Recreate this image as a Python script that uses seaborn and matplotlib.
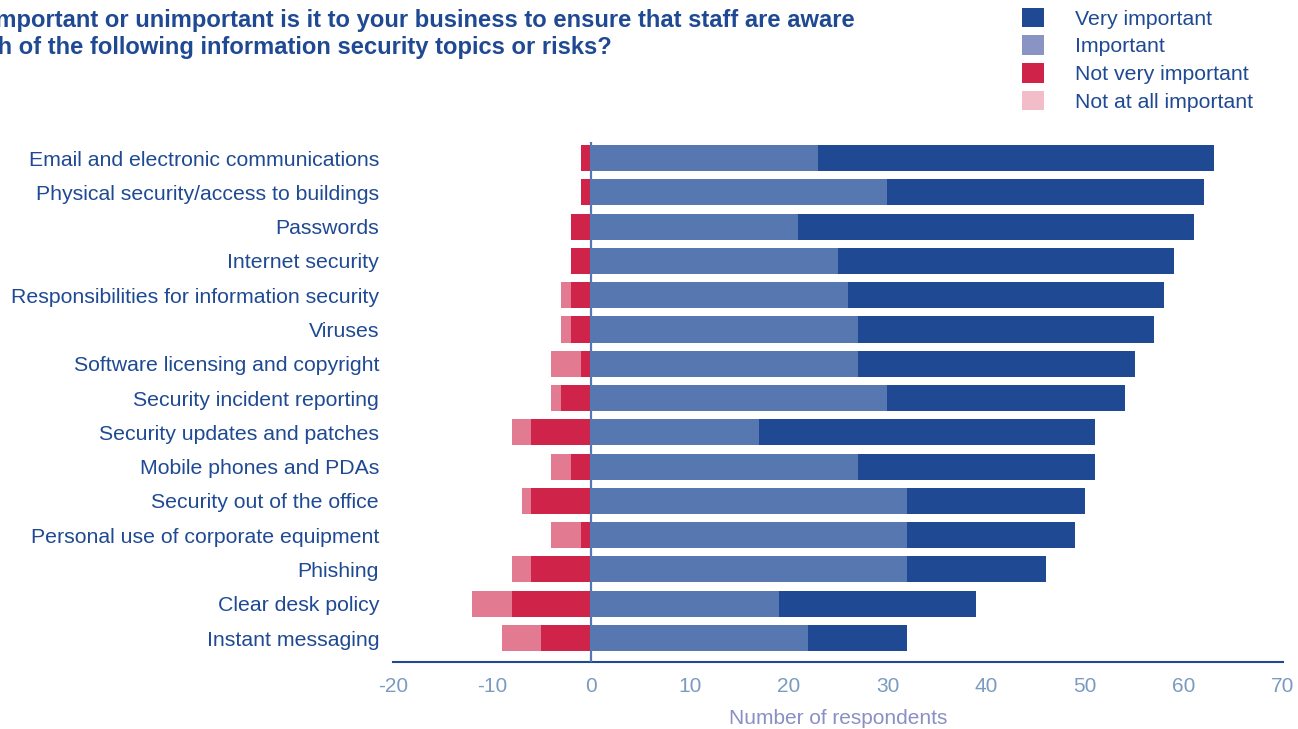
import numpy as np
import pandas as pd
import seaborn as sns
import matplotlib.pyplot as plt
from matplotlib.patches import Patch

topics = ["Email and electronic communications", "Physical security/access to buildings",
          "Passwords", "Internet security", "Responsibilities for information security",
          "Viruses", "Software licensing and copyright", "Security incident reporting",
          "Security updates and patches", "Mobile phones and PDAs", "Security out of the office",
          "Personal use of corporate equipment", "Phishing", "Clear desk policy",
          "Instant messaging"]
very_important = [40, 32, 40, 34, 32, 30, 28, 24, 34, 24, 18, 17, 14, 20, 10]
important = [23, 30, 21, 25, 26, 27, 27, 30, 17, 27, 32, 32, 32, 19, 22]
not_very = [1, 1, 2, 2, 2, 2, 1, 3, 6, 2, 6, 1, 6, 8, 5]
not_at_all = [0, 0, 0, 0, 1, 1, 3, 1, 2, 2, 1, 3, 2, 4, 4]
legend_labels = ["Very important", "Important", "Not very important", "Not at all important"]

DARK = "#1f4a93"
C_VERY = "#1f4a93"
C_IMP = "#5677b0"
C_NV = "#cf2349"
C_NA = "#e27a92"

df = pd.DataFrame({"Topic": topics, "very": very_important, "imp": important,
                   "nv": not_very, "na": not_at_all})
df["pos_total"] = df["imp"] + df["very"]
df["neg_total"] = -(df["nv"] + df["na"])
df["neg_nv"] = -df["nv"]

sns.set_style("white")
plt.rcParams["font.family"] = ["Liberation Sans", "DejaVu Sans"]
plt.rcParams["axes.unicode_minus"] = False

fig = plt.figure(figsize=(12.98, 7.29), dpi=100)
ax = fig.add_axes([393 / 1298, 1 - 662 / 729, 890 / 1298, (662 - 142) / 729])

# stacked by overdrawing: totals first, then inner segments
w = 0.76
bar_kw = dict(orient="h", width=w, saturation=1, linewidth=0, edgecolor="none", ax=ax)
sns.barplot(data=df, x="pos_total", y="Topic", color=C_VERY, **bar_kw)
sns.barplot(data=df, x="imp", y="Topic", color=C_IMP, **bar_kw)
sns.barplot(data=df, x="neg_total", y="Topic", color=C_NA, **bar_kw)
sns.barplot(data=df, x="neg_nv", y="Topic", color=C_NV, **bar_kw)

ax.axvline(0, color=C_IMP, lw=1.6, zorder=5)
ax.set_xlim(-20, 70)
ax.set_ylim(14.7, -0.47)
ax.set_xticks(range(-20, 71, 10))

for s in ["top", "right", "left"]:
    ax.spines[s].set_visible(False)
ax.spines["bottom"].set_color(DARK)
ax.spines["bottom"].set_linewidth(1.5)

ax.tick_params(axis="x", length=0, pad=11, labelsize=15, labelcolor="#7a9bc0")
ax.tick_params(axis="y", length=0, pad=10, labelsize=15.3, labelcolor=DARK)
ax.set_ylabel("")
ax.set_xlabel("Number of respondents", fontsize=15, color="#8a8fc4", labelpad=9)

# title, left part clipped by the figure edge (as in the source image)
fig.text(855 / 1298, 1 - 27 / 729, "How important or unimportant is it to your business to ensure that staff are aware",
         ha="right", va="baseline", fontsize=17.1, fontweight="bold", color=DARK)
fig.text(612 / 1298, 1 - 54 / 729, "of each of the following information security topics or risks?",
         ha="right", va="baseline", fontsize=17.1, fontweight="bold", color=DARK)

handles = [Patch(facecolor=c, edgecolor="none") for c in ["#1f4a93", "#8a94c4", "#cf2349", "#f2bdc9"]]
fig.legend(handles, legend_labels, loc="upper left", bbox_to_anchor=(1013 / 1298, 1 + 1 / 729),
           frameon=False, fontsize=15.3, labelcolor=DARK, handlelength=1.05, handleheight=1.05,
           handletextpad=1.45, labelspacing=0.31, borderaxespad=0)

fig.savefig("out.png", dpi=100)
plt.close()
